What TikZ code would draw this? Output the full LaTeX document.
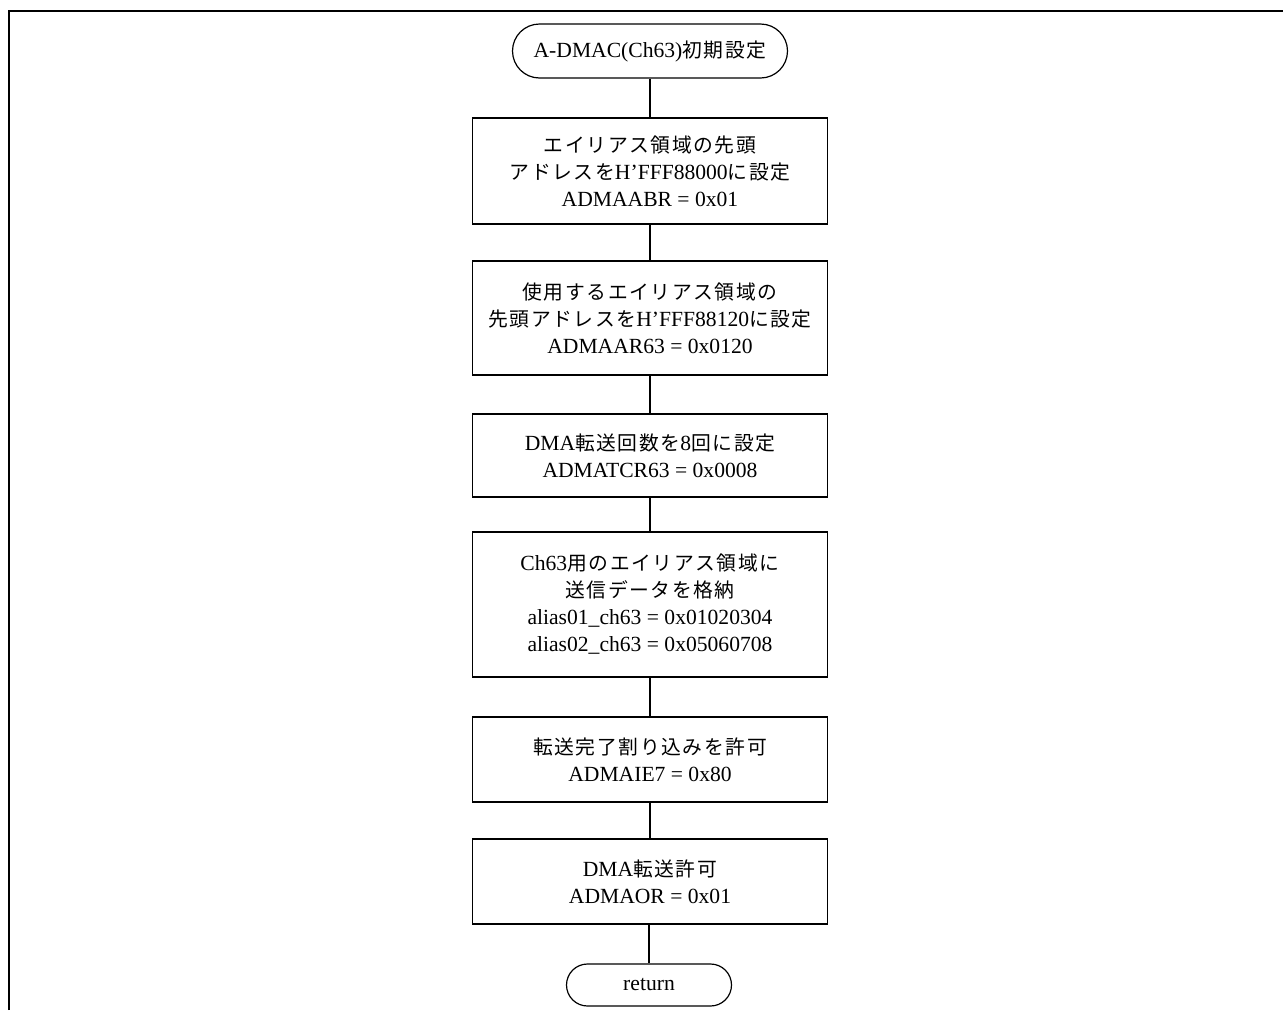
\documentclass[tikz,border=0pt]{standalone}
\usepackage{fontspec}
\setmainfont{Liberation Serif}[Scale=1.2]
\newfontfamily\jp{Noto Sans CJK JP}[Scale=1.1,LetterSpace=8]
\begin{document}
\begin{tikzpicture}[x=1pt,y=-1pt,
  txt/.style={font=\fontsize{18}{27}\selectfont, align=center, inner sep=0pt},
  procbox/.style={txt, draw, line width=1.2pt, minimum width=355pt},
  termbox/.style={txt, draw, line width=1.2pt},
  link/.style={line width=1.2pt}]
  \useasboundingbox (0,0) rectangle (1283,1010);
  % page frame (top and left edges)
  \draw[line width=1.6pt] (9,1010) -- (9,11) -- (1283,11);

  % terminals and process steps
  \node[termbox, rounded corners=27pt, minimum width=275pt, minimum height=54pt] (start) at (650,51)
    {A-DMAC(Ch63){\jp 初期設定}};
  \node[procbox, minimum height=106pt] (b1) at (650,171)
    {{\jp エイリアス領域の先頭}\\{\jp アドレスを}H’FFF88000{\jp に設定}\\ADMAABR = 0x01};
  \node[procbox, minimum height=114pt] (b2) at (650,318)
    {{\jp 使用するエイリアス領域の}\\{\jp 先頭アドレスを}H’FFF88120{\jp に設定}\\ADMAAR63 = 0x0120};
  \node[procbox, minimum height=83pt] (b3) at (650,455.5)
    {DMA{\jp 転送回数を}8{\jp 回に設定}\\ADMATCR63 = 0x0008};
  \node[procbox, minimum height=145pt] (b4) at (650,604.5)
    {Ch63{\jp 用のエイリアス領域に}\\{\jp 送信データを格納}\\alias01\_ch63 = 0x01020304\\alias02\_ch63 = 0x05060708};
  \node[procbox, minimum height=85pt] (b5) at (650,759.5)
    {{\jp 転送完了割り込みを許可}\\ADMAIE7 = 0x80};
  \node[procbox, minimum height=85pt] (b6) at (650,881.5)
    {DMA{\jp 転送許可}\\ADMAOR = 0x01};
  \node[termbox, rounded corners=21pt, minimum width=165pt, minimum height=42pt] (ret) at (649,985)
    {return};

  % flow connectors
  \draw[link] (start) -- (b1);
  \draw[link] (b1) -- (b2);
  \draw[link] (b2) -- (b3);
  \draw[link] (b3) -- (b4);
  \draw[link] (b4) -- (b5);
  \draw[link] (b5) -- (b6);
  \draw[link] (b6.south -| ret.north) -- (ret);
\end{tikzpicture}
\end{document}
